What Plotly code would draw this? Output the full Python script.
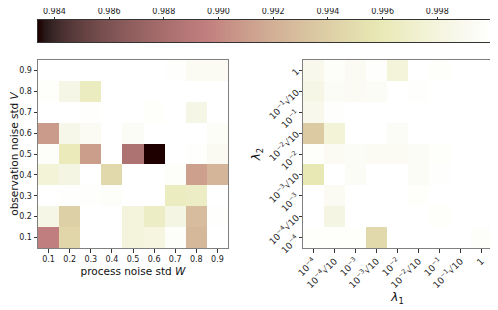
import numpy as np
import plotly.graph_objects as go

# ---------------- data ----------------
W_vals = [0.1, 0.2, 0.3, 0.4, 0.5, 0.6, 0.7, 0.8, 0.9]
V_vals = [0.1, 0.2, 0.3, 0.4, 0.5, 0.6, 0.7, 0.8, 0.9]
# rows: V = 0.1 ... 0.9 (bottom to top); columns: W = 0.1 ... 0.9
left_z = [
    [0.98954, 0.99452, 1.00000, 1.00000, 0.99801, 0.99817, 0.99967, 0.99253, 1.00000],
    [0.99851, 0.99402, 1.00000, 1.00000, 0.99801, 0.99668, 0.99834, 0.99286, 0.99983],
    [1.00000, 0.99983, 0.99983, 0.99967, 1.00000, 1.00000, 0.99651, 0.99668, 1.00000],
    [0.99768, 0.99834, 1.00000, 0.99469, 1.00000, 1.00000, 0.99967, 0.99120, 0.99236],
    [0.99967, 0.99618, 0.99104, 1.00000, 0.98838, 0.98340, 1.00000, 0.99983, 0.99917],
    [0.99087, 0.99867, 0.99934, 1.00000, 0.99950, 1.00000, 1.00000, 1.00000, 0.99959],
    [1.00000, 1.00000, 0.99983, 1.00000, 1.00000, 0.99975, 1.00000, 0.99851, 1.00000],
    [0.99975, 0.99851, 0.99651, 1.00000, 1.00000, 1.00000, 1.00000, 1.00000, 1.00000],
    [1.00000, 1.00000, 1.00000, 1.00000, 1.00000, 1.00000, 0.99983, 0.99934, 0.99934],
]

lam_labels = [
    "10<sup>−4</sup>", "10<sup>−4</sup>√10", "10<sup>−3</sup>", "10<sup>−3</sup>√10",
    "10<sup>−2</sup>", "10<sup>−2</sup>√10", "10<sup>−1</sup>", "10<sup>−1</sup>√10", "1",
]
# rows: lambda2 = 1e-4 ... 1 (bottom to top); columns: lambda1 = 1e-4 ... 1
right_z = [
    [0.99975, 0.99975, 0.99975, 0.99469, 1.00000, 1.00000, 1.00000, 1.00000, 0.99967],
    [1.00000, 0.99834, 1.00000, 1.00000, 1.00000, 1.00000, 0.99975, 1.00000, 1.00000],
    [1.00000, 0.99934, 1.00000, 1.00000, 1.00000, 0.99975, 1.00000, 1.00000, 1.00000],
    [0.99585, 1.00000, 0.99950, 1.00000, 1.00000, 0.99950, 0.99983, 1.00000, 1.00000],
    [0.99975, 0.99934, 0.99950, 0.99934, 0.99934, 0.99950, 0.99975, 1.00000, 1.00000],
    [0.99369, 0.99768, 1.00000, 1.00000, 0.99950, 1.00000, 1.00000, 1.00000, 1.00000],
    [0.99884, 0.99983, 1.00000, 1.00000, 1.00000, 1.00000, 1.00000, 1.00000, 1.00000],
    [0.99851, 0.99950, 0.99934, 0.99942, 1.00000, 0.99983, 1.00000, 1.00000, 1.00000],
    [0.99884, 0.99967, 0.99934, 0.99983, 0.99784, 1.00000, 0.99975, 1.00000, 1.00000],
]

cbar_ticks = [0.984, 0.986, 0.988, 0.990, 0.992, 0.994, 0.996, 0.998]
zmin, zmax = 0.9834, 1.0

# ---------------- matplotlib "pink" colormap ----------------
def pink(t):
    hr = min(1.0, t / 0.375)
    hg = min(1.0, max(0.0, (t - 0.375) / 0.375))
    hb = min(1.0, max(0.0, (t - 0.75) / 0.25))
    r = np.sqrt((2 * t + hr) / 3)
    g = np.sqrt((2 * t + hg) / 3)
    b = np.sqrt((2 * t + hb) / 3)
    r = max(r, 0.1178)
    return f"rgb({int(r*255)},{int(g*255)},{int(b*255)})"

cs = [[t, pink(t)] for t in np.linspace(0, 1, 49)]

FONT = "DejaVu Sans"
fig = go.Figure()
fig.add_trace(go.Heatmap(x=W_vals, y=V_vals, z=left_z, coloraxis="coloraxis",
                         xaxis="x", yaxis="y"))
fig.add_trace(go.Heatmap(x=lam_labels, y=lam_labels, z=right_z, coloraxis="coloraxis",
                         xaxis="x2", yaxis="y2"))
# colour bar drawn as its own gradient strip with ticks on top
grad = np.linspace(zmin, zmax, 400)
fig.add_trace(go.Heatmap(x=grad, y=[0], z=[grad], coloraxis="coloraxis",
                         xaxis="x3", yaxis="y3", hoverinfo="skip"))

# page body has an 8px margin: lay the figure out in window pixels minus 8
OFF = 8
W, H = 498 - OFF, 310 - OFF


def xd(a, b):
    return [(a - OFF) / W, (b - OFF) / W]


def yd(top, bottom):
    return [1 - (bottom - OFF) / H, 1 - (top - OFF) / H]


ax_common = dict(showline=True, mirror=True, linecolor="#808080", linewidth=1,
                 ticks="outside", ticklen=3.5, tickcolor="#333", tickwidth=0.8,
                 showgrid=False, zeroline=False,
                 tickfont=dict(family=FONT, size=8, color="#222"))
ax_right = dict(ax_common, tickfont=dict(family=FONT, size=9, color="#222"))

fig.update_layout(
    width=W, height=H, margin=dict(l=0, r=0, t=0, b=0, autoexpand=False),
    paper_bgcolor="white", plot_bgcolor="white",
    font=dict(family=FONT, color="#111"),
    coloraxis=dict(colorscale=cs, cmin=zmin, cmax=zmax, showscale=False),
    xaxis=dict(domain=xd(38, 228), anchor="y", range=[0.05, 0.95],
               tickvals=W_vals, tickformat=".1f",
               title=dict(text="process noise std <i>W</i>", standoff=4,
                          font=dict(family=FONT, size=10.5)),
               **ax_common),
    yaxis=dict(domain=yd(60, 248), anchor="x", range=[0.05, 0.95],
               tickvals=V_vals, tickformat=".1f",
               title=dict(text="observation noise std <i>V</i>", standoff=1,
                          font=dict(family=FONT, size=10.5)),
               **ax_common),
    xaxis2=dict(domain=xd(303, 492), anchor="y2", type="category",
                tickangle=-45,
                title=dict(text="<i>λ</i><sub>1</sub>", standoff=2,
                           font=dict(family=FONT, size=12)),
                **ax_right),
    yaxis2=dict(domain=yd(60, 248), anchor="x2", type="category",
                tickangle=-45,
                title=dict(text="<i>λ</i><sub>2</sub>", standoff=2,
                           font=dict(family=FONT, size=12)),
                **ax_right),
    xaxis3=dict(domain=xd(38, 492), anchor="y3", side="top",
                range=[zmin, zmax], tickvals=cbar_ticks, tickformat=".3f",
                showline=True, mirror=True, linecolor="#333", linewidth=1,
                ticks="outside", ticklen=2, tickcolor="#333", tickwidth=0.8,
                showgrid=False, zeroline=False,
                tickfont=dict(family=FONT, size=8, color="#222")),
    yaxis3=dict(domain=yd(20, 42), anchor="x3", range=[-0.5, 0.5],
                showticklabels=False, ticks="", showline=True, mirror=True,
                linecolor="#333", linewidth=1, showgrid=False, zeroline=False),
)

fig.write_html("out.html")
